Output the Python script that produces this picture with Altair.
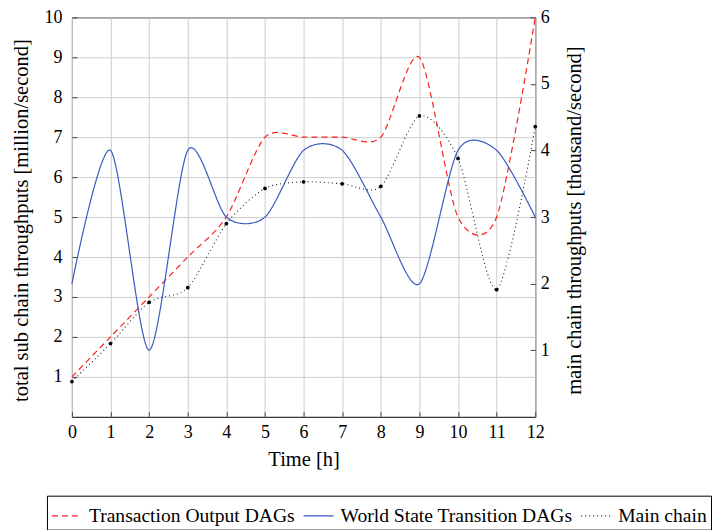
import altair as alt
import pandas as pd

hours = list(range(13))
tx_output = [1, 2, 3, 4, 5, 7, 7, 7, 7, 9, 5, 5, 10]
world_state = [3.33, 6.67, 1.67, 6.67, 5, 5, 6.67, 6.67, 5, 3.33, 6.67, 6.67, 5]
main_chain = [0.53, 1.1, 1.72, 1.94, 2.9, 3.43, 3.53, 3.5, 3.46, 4.52, 3.88, 1.91, 4.36]
series_names = ["Transaction Output DAGs", "World State Transition DAGs", "Main chain"]
series_colors = ["#ff2020", "#3a5abf", "#222222"]
series_dash = [[6, 4], [1, 0], [1, 3]]
left_ticks = list(range(1, 11))
right_ticks = list(range(1, 7))

sub_df = pd.DataFrame({
    "hour": hours * 2,
    "value": tx_output + world_state,
    "series": [series_names[0]] * 13 + [series_names[1]] * 13,
})
main_df = pd.DataFrame({"hour": hours, "value": main_chain, "series": [series_names[2]] * 13})

FONT = "Liberation Serif"

legend = alt.Legend(
    title=None, orient="none", legendX=-25, legendY=479, direction="horizontal",
    symbolType="stroke", symbolSize=900, symbolStrokeWidth=1.2,
    labelFontSize=19.6, labelFont=FONT, labelColor="black", labelLimit=400,
    strokeColor="black", fillColor="white", padding=4, columnPadding=5, labelOffset=6,
)
color = alt.Color("series:N", scale=alt.Scale(domain=series_names, range=series_colors), legend=legend)
dash = alt.StrokeDash("series:N", scale=alt.Scale(domain=series_names, range=series_dash), legend=legend)

x_enc = alt.X("hour:Q", scale=alt.Scale(domain=[0, 12], nice=False),
              axis=alt.Axis(values=hours, title="Time [h]", offset=-5, tickSize=5, domain=False,
                            labelPadding=7, labelFlush=False, titleY=48, titleBaseline="middle",
                            grid=True))

sub_lines = alt.Chart(sub_df).mark_line(interpolate="cardinal", tension=0.2, strokeWidth=1.2).encode(
    x=x_enc,
    y=alt.Y("value:Q", scale=alt.Scale(domain=[0, 10], nice=False),
            axis=alt.Axis(values=left_ticks, title="total sub chain throughputs [million/second]",
                          orient="left", offset=-5, tickSize=5, domain=False, labelPadding=10,
                          labelFlush=False, titleAngle=270, titleX=-55, titleY=203,
                          titleBaseline="middle", titleAlign="center", grid=True)),
    color=color, strokeDash=dash,
)

main_line = alt.Chart(main_df).mark_line(interpolate="cardinal", tension=0.2, strokeWidth=1.1).encode(
    x=x_enc,
    y=alt.Y("value:Q", scale=alt.Scale(domain=[0, 6], nice=False),
            axis=alt.Axis(values=right_ticks, title="main chain throughputs [thousand/second]",
                          orient="right", offset=-5, tickSize=5, domain=False, labelPadding=5,
                          labelFlush=False, titleAngle=270, titleX=44, titleY=203,
                          titleBaseline="middle", titleAlign="center", grid=False)),
    color=color, strokeDash=dash,
)

main_points = alt.Chart(main_df).mark_point(filled=True, size=14, color="black", opacity=1).encode(
    x=x_enc,
    y=alt.Y("value:Q", scale=alt.Scale(domain=[0, 6], nice=False), axis=None),
)

chart = alt.layer(sub_lines, main_line, main_points).resolve_scale(y="independent").properties(
    width=464, height=400,
    padding={"left": 64, "top": 9, "right": 180, "bottom": 113},
    autosize=alt.AutoSizeParams(type="none"),
).configure_view(stroke="black", strokeWidth=1).configure_axis(
    labelFont=FONT, titleFont=FONT, labelFontSize=18, titleFontSize=20.5,
    titleFontWeight="normal", labelColor="black", titleColor="black",
    tickColor="#444444", gridColor="#cccccc", gridWidth=1,
)

chart.save("out.html", embed_options={"renderer": "svg", "actions": False})
